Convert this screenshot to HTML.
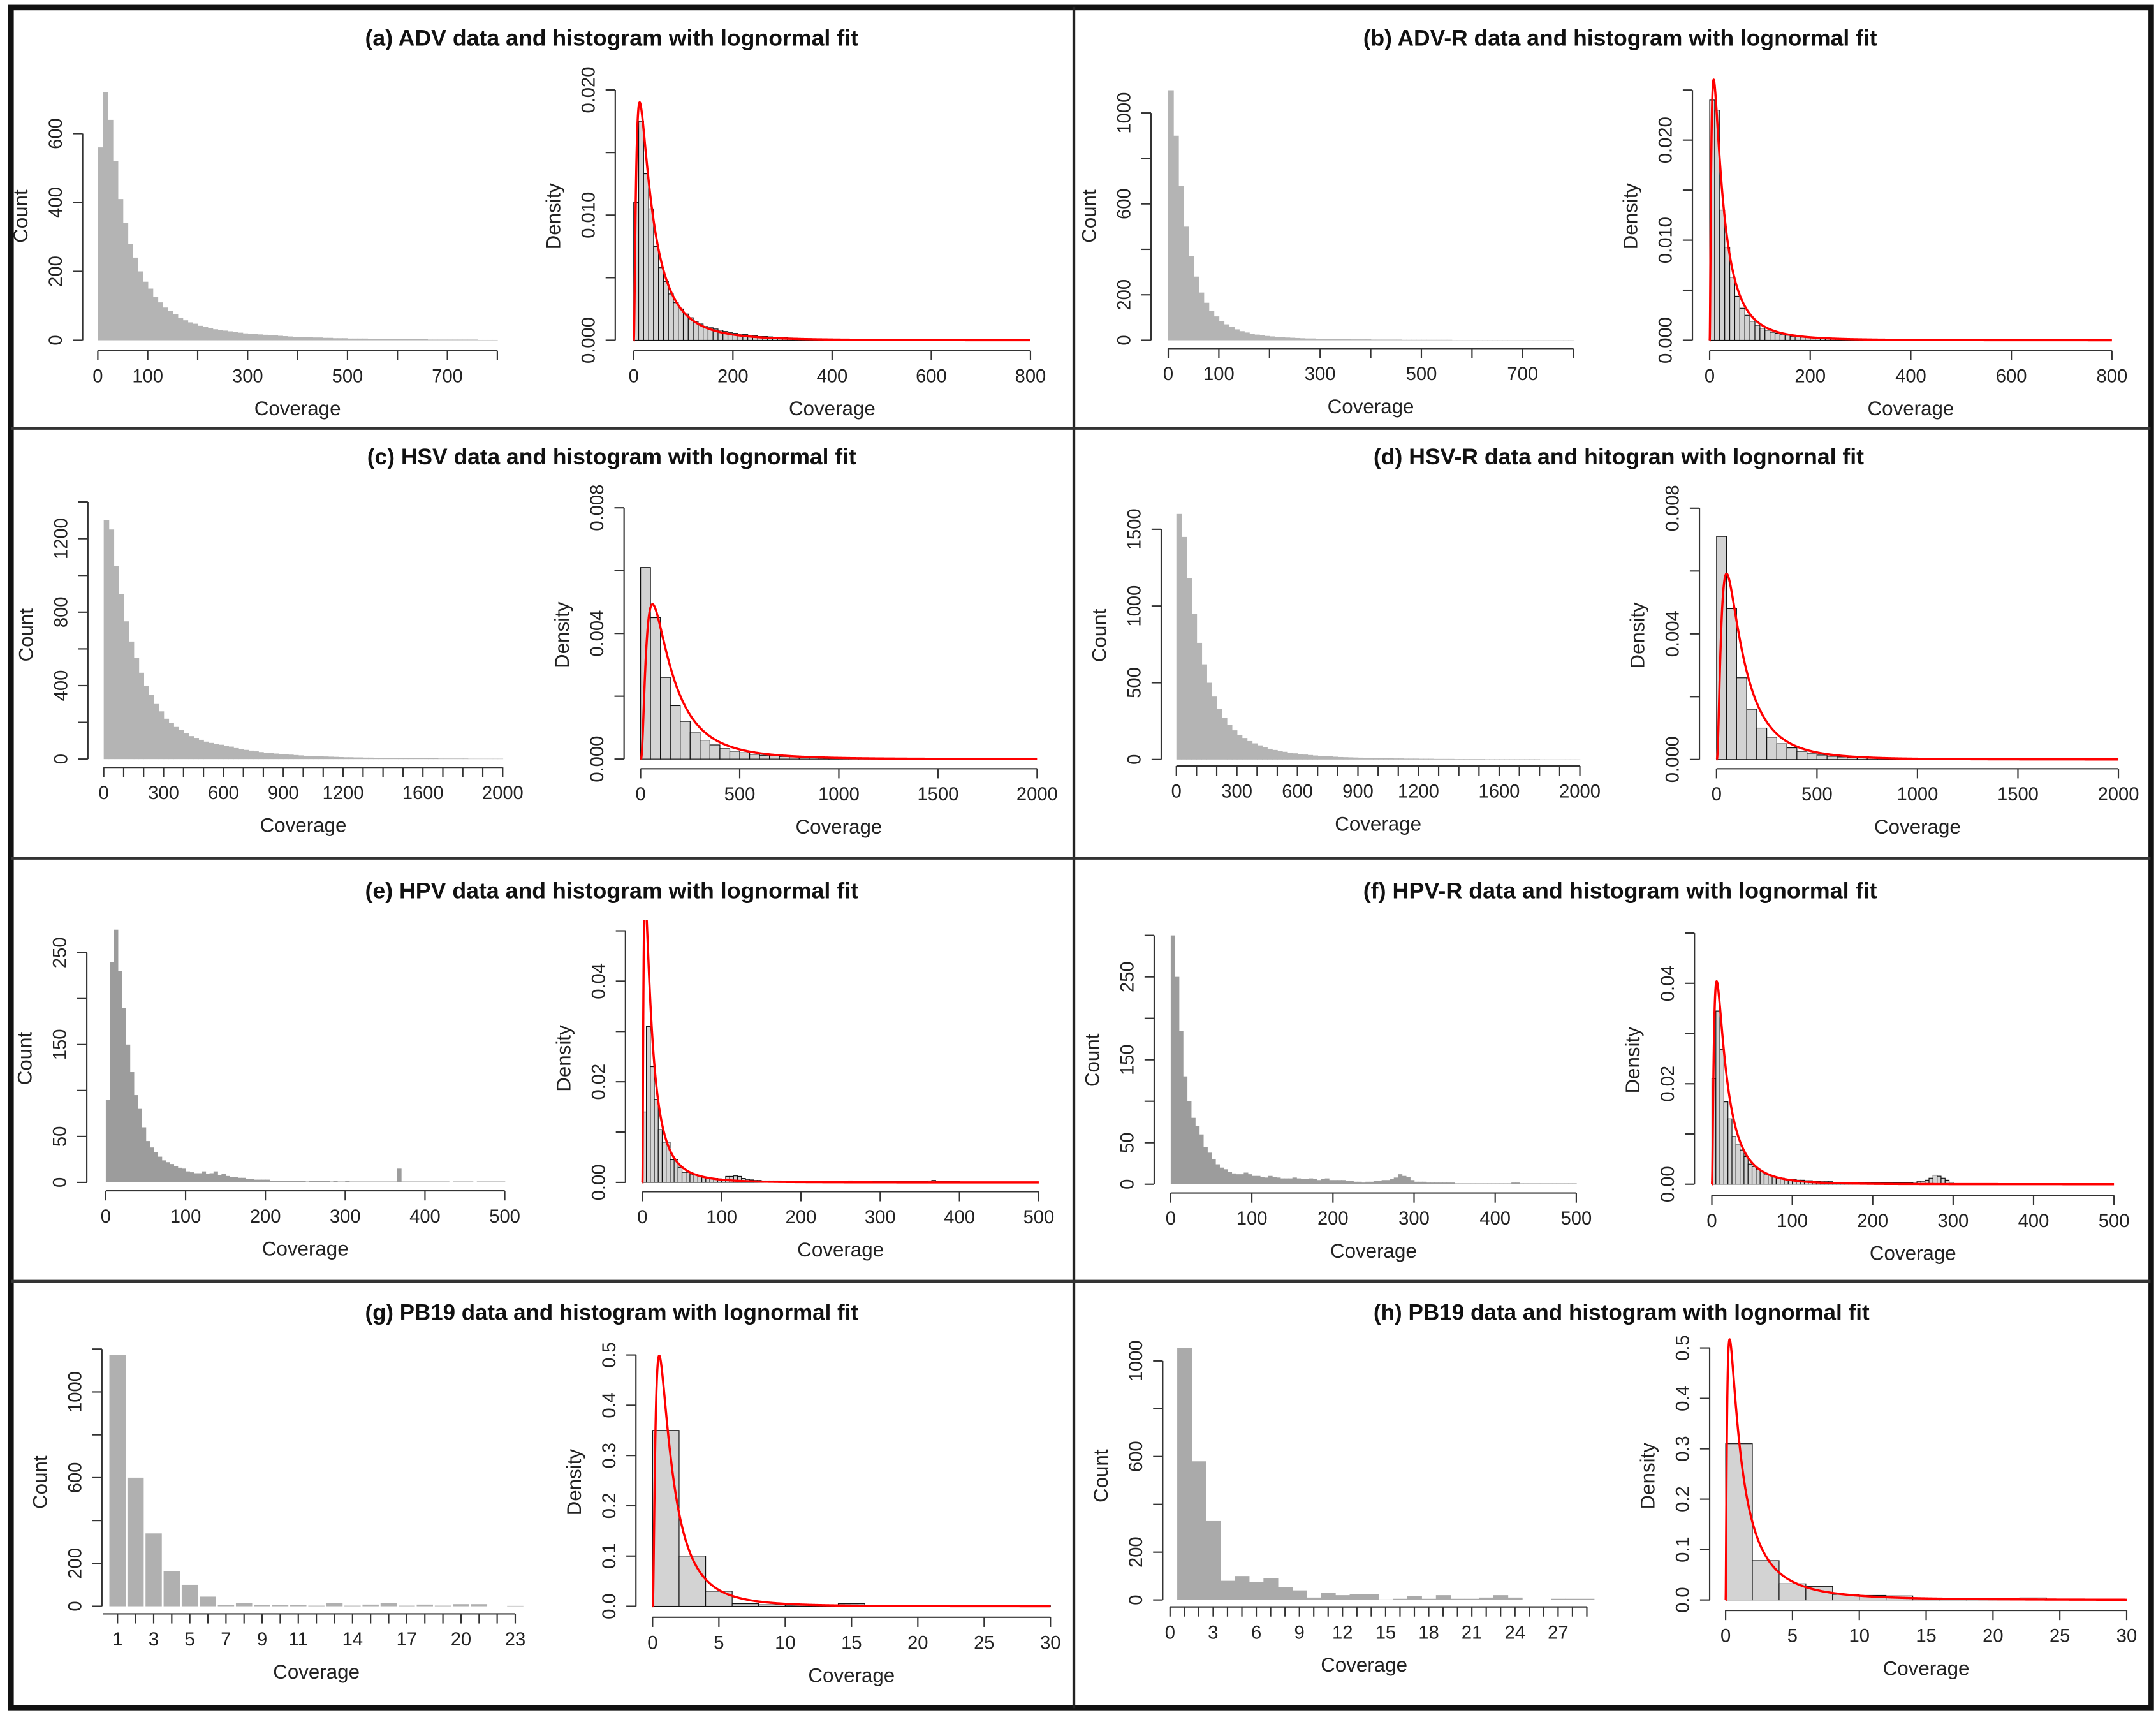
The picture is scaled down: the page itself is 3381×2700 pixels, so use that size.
<!DOCTYPE html>
<html><head><meta charset="utf-8"><title>Coverage histograms with lognormal fits</title>
<style>
html,body{margin:0;padding:0;background:#fff;}
svg{display:block;}
text{font-family:"Liberation Sans",Arial,sans-serif;fill:#222;}
.ttl{font-weight:bold;font-size:16.5px;fill:#111;}
.tk{font-size:13.5px;}
.at{font-size:14.5px;}
</style></head>
<body>
<svg id="chart" width="3381" height="2700" viewBox="0 0 1565 1250" preserveAspectRatio="none" xmlns="http://www.w3.org/2000/svg">
<rect x="0" y="0" width="1565" height="1250" fill="#fff"/>
<g>
<rect x="8" y="5.5" width="1553.5" height="1234" fill="none" stroke="#111" stroke-width="4"/>
<line x1="779.5" y1="5" x2="779.5" y2="1240" stroke="#222" stroke-width="2"/>
<line x1="8" y1="311" x2="1561" y2="311" stroke="#333" stroke-width="2"/>
<line x1="8" y1="623" x2="1561" y2="623" stroke="#333" stroke-width="2"/>
<line x1="8" y1="930" x2="1561" y2="930" stroke="#333" stroke-width="2"/>
</g>
<g>
<text class="ttl" x="444" y="33" text-anchor="middle" textLength="358" lengthAdjust="spacingAndGlyphs">(a) ADV data and histogram with lognormal fit</text>
<text class="ttl" x="1176" y="33" text-anchor="middle" textLength="373" lengthAdjust="spacingAndGlyphs">(b) ADV-R data and histogram with lognormal fit</text>
<text class="ttl" x="444" y="337" text-anchor="middle" textLength="355" lengthAdjust="spacingAndGlyphs">(c) HSV data and histogram with lognormal fit</text>
<text class="ttl" x="1175" y="337" text-anchor="middle" textLength="356" lengthAdjust="spacingAndGlyphs">(d) HSV-R data and hitogran with lognornal fit</text>
<text class="ttl" x="444" y="652" text-anchor="middle" textLength="358" lengthAdjust="spacingAndGlyphs">(e) HPV data and histogram with lognormal fit</text>
<text class="ttl" x="1176" y="652" text-anchor="middle" textLength="373" lengthAdjust="spacingAndGlyphs">(f) HPV-R data and histogram with lognormal fit</text>
<text class="ttl" x="444" y="958" text-anchor="middle" textLength="358" lengthAdjust="spacingAndGlyphs">(g) PB19 data and histogram with lognormal fit</text>
<text class="ttl" x="1177" y="958" text-anchor="middle" textLength="360" lengthAdjust="spacingAndGlyphs">(h) PB19 data and histogram with lognormal fit</text>
</g>
</svg>
<script>
// ---------- data ----------
const aCount = [560,720,640,520,410,340,280,240,200,170,150,125,110,95,85,75,65,58,52,48,42,38,35,32,30,28,26,24,22,20,19,18,17,16,15,14,13,12,11,10,10,9,9,8,8,7,7,6,6,6,5,5,5,5,4,4,4,4,4,3,3,3,3,3,3,3,2,2,2,2,2,2,2,2,2,2,1,1,1,1];
const aDens = [0.011,0.0175,0.0133,0.0105,0.0075,0.0058,0.0047,0.0037,0.003,0.0025,0.0021,0.0018,0.0015,0.0013,0.0011,0.001,0.0009,0.0008,0.0007,0.0006,0.00055,0.0005,0.00045,0.0004,0.00035,0.0003,0.0003,0.00027,0.00025,0.00022,0.0002,0.00018,0.00016,0.00015,0.00014,0.00013,0.00012,0.00011,0.0001,0.0001,0.00008,0.00007,0.00006,0.00006,0.00005,0.00005,0.00004,0.00004,0.00003,0.00003];
const aFit = [3.545, 1.03];
const bCount = [1100,900,680,500,370,280,210,165,130,105,85,70,58,48,40,34,29,25,22,19,17,15,13,12,11,10,9,8,8,7,7,6,6,5,5,5,4,4,4,4,3,3,3,3,3,3,2,2,2,2,2,2,2,2,2,2,1,1,1,1,1,1,1,1,1,1,1,1,1,1,1,1,1,1,1,1,1,1,1,1];
const bDens = [0.024,0.023,0.013,0.0093,0.0063,0.0044,0.0032,0.0025,0.0019,0.0015,0.0012,0.001,0.0008,0.0007,0.0006,0.0005,0.0004,0.00035,0.0003,0.00027,0.00024,0.0002,0.00018,0.00016,0.00014,0.00012,0.0001,0.0001,0.00009,0.00008,0.00007,0.00006,0.00005,0.00005,0.00004,0.00004,0.00003,0.00003,0.00003,0.00003];
const bFit = [3.235, 1.075];
const cCount = [1300,1250,1050,900,750,640,550,470,400,350,300,260,220,195,175,160,140,125,115,105,95,88,82,78,72,68,60,55,50,46,42,38,35,32,30,28,26,24,22,20,18,17,16,15,14,13,12,11,10,10,9,9,8,8,7,7,6,6,6,5,5,5,5,4,4,4,4,3,3,3,3,3,3,2,2,2,2,2,2,2];
const cDens = [0.0061,0.0045,0.0026,0.0017,0.0012,0.00086,0.0006,0.00045,0.00033,0.00025,0.0002,0.00015,0.00012,0.0001,0.00008,0.00007,0.00006,0.00005,0.00004,0.00003,0.00003,0.00002,0.00002,0.00002,0.00001,0.00001,0.00001,0.00001];
const cFit = [4.904, 0.9];
const dCount = [1600,1450,1180,950,760,620,500,410,330,270,225,190,160,140,120,105,92,80,70,62,55,50,45,40,36,32,29,26,24,22,20,18,16,15,14,13,12,11,10,9,9,8,8,7,7,6,6,6,5,5,5,4,4,4,4,3,3,3,3,3,3,2,2,2,2,2,2,2,2,2,2,2,1,1,1,1,1,1,1,1];
const dDens = [0.0071,0.0048,0.0026,0.0016,0.001,0.00071,0.0005,0.00037,0.00026,0.0002,0.00014,0.0001,0.00008,0.00006,0.00005,0.00004,0.00003,0.00003,0.00002,0.00002,0.00001,0.00001,0.00001];
const dFit = [4.722, 0.9];
const eCount = [90,240,275,230,190,150,120,95,80,60,45,38,33,28,24,22,20,18,16,15,12,11,10,10,12,9,10,12,8,9,7,6,6,5,5,4,4,3,3,3,3,2,2,2,2,2,2,2,2,2,1,2,2,2,2,2,1,2,1,1,2,1,1,1,1,1,1,1,1,1,1,1,1,15,1,1,1,1,1,1,1,1,1,1,1,1,0,1,1,1,1,1,0,1,1,1,1,1,1,1];
const eDens = [0.014,0.031,0.023,0.0165,0.0105,0.008,0.008,0.0045,0.0045,0.003,0.002,0.002,0.0015,0.0015,0.0012,0.001,0.001,0.0008,0.0008,0.0007,0.0006,0.0012,0.0012,0.0013,0.0012,0.0008,0.0006,0.0005,0.0004,0.0004,0.0003,0.0003,0.0003,0.0003,0.0003,0.0002,0.0002,0.0002,0.0002,0.0002,0.0002,0.0002,0.0002,0.0002,0.0002,0.0002,0.0002,0.0002,0.0002,0.0002,0.0002,0.0002,0.0003,0.0002,0.0002,0.0002,0.0002,0.0002,0.0002,0.0002,0.0002,0.0002,0.0002,0.0002,0.0002,0.0002,0.0002,0.0002,0.0002,0.0002,0.0002,0.0002,0.0003,0.0004,0.0002,0.0002,0.0002,0.0002,0.0002,0.0002];
const eFit = [2.463, 1.1];
const fCount = [300,250,185,130,100,80,70,60,45,38,30,24,20,18,15,13,12,12,14,12,10,10,9,8,10,9,8,7,7,7,8,7,6,6,7,6,5,6,7,5,5,5,5,4,4,3,3,2,3,3,4,4,5,5,6,8,12,10,9,5,3,3,3,2,2,2,2,2,2,2,1,1,1,1,1,1,1,1,1,1,1,1,1,1,2,2,1,1,1,1,1,1,1,1,1,1,1,1,1,1];
const fDens = [0.021,0.0345,0.0268,0.0164,0.013,0.0095,0.008,0.0068,0.0055,0.004,0.0035,0.003,0.0025,0.002,0.0018,0.0015,0.0013,0.0012,0.001,0.001,0.0009,0.0008,0.0008,0.0007,0.0007,0.0006,0.0006,0.0005,0.0005,0.0005,0.0004,0.0004,0.0004,0.0003,0.0003,0.0003,0.0003,0.0003,0.0003,0.0003,0.0003,0.0003,0.0003,0.0003,0.0003,0.0003,0.0003,0.0003,0.0003,0.0003,0.0004,0.0005,0.0006,0.0008,0.0012,0.0018,0.0016,0.0012,0.0008,0.0004];
const fFit = [2.79, 1.0];
const gCategories = [1,2,3,4,5,6,7,8,9,10,11,12,13,14,15,16,17,18,19,20,21,22,23];
const gCount = [1172,600,340,165,100,45,5,15,5,5,5,3,15,3,8,15,3,8,3,10,10,0,2];
const gDens = [0.35,0.1,0.03,0.005,0.003,0.002,0.002,0.005,0.001,0.002,0.001,0.002,0.001,0.001,0.001];
const gFit = [0.277, 0.985];
const hCategories = [1,2,3,4,5,6,7,8,9,10,11,12,13,14,15,16,17,18,19,20,21,22,23,24,25,26,27,28,29];
const hCount = [1055,580,330,80,100,75,90,55,40,10,30,20,25,25,2,5,15,5,20,5,5,10,20,10,0,0,5,5,5];
const hDens = [0.31,0.078,0.032,0.027,0.011,0.009,0.008,0.002,0.003,0.003,0.001,0.004,0,0,0];
const hFit = [0.286, 1.22];

// tick arrays
const x800by100 = [0,100,200,300,400,500,600,700,800];
const x800lab = ['0','100','','300','','500','','700',''];
const x800by200 = [0,200,400,600,800];
const x800by200lab = ['0','200','400','600','800'];
const x2000by100 = [0,100,200,300,400,500,600,700,800,900,1000,1100,1200,1300,1400,1500,1600,1700,1800,1900,2000];
const x2000lab = ['0','','','300','','','600','','','900','','','1200','','','','1600','','','','2000'];
const x2000by500 = [0,500,1000,1500,2000];
const x2000by500lab = ['0','500','1000','1500','2000'];
const x500by100 = [0,100,200,300,400,500];
const x500lab = ['0','100','200','300','400','500'];
const x30by5 = [0,5,10,15,20,25,30];
const x30lab = ['0','5','10','15','20','25','30'];
const gXTicks = [1,2,3,4,5,6,7,8,9,10,11,12,13,14,15,16,17,18,19,20,21,22,23];
const gXLab = ['1','','3','','5','','7','','9','','11','','','14','','','17','','','20','','','23'];
const hXTicks = [0,1,2,3,4,5,6,7,8,9,10,11,12,13,14,15,16,17,18,19,20,21,22,23,24,25,26,27,28,29];
const hXLab = ['0','','','3','','','6','','','9','','','12','','','15','','','18','','','21','','','24','','','27','',''];
const aYTicks = [0,200,400,600], aYLab = ['0','200','400','600'];
const bYTicks = [0,200,400,600,800,1000], bYLab = ['0','200','','600','','1000'];
const densA = [0,0.005,0.01,0.015,0.02], densALab = ['0.000','','0.010','','0.020'];
const densB = [0,0.005,0.01,0.015,0.02,0.025], densBLab = ['0.000','','0.010','','0.020',''];
const cYTicks = [0,200,400,600,800,1000,1200,1400], cYLab = ['0','','400','','800','','1200',''];
const dYTicks = [0,500,1000,1500], dYLab = ['0','500','1000','1500'];
const densC = [0,0.002,0.004,0.006,0.008], densCLab = ['0.000','','0.004','','0.008'];
const eYTicks = [0,50,100,150,200,250], eYLab = ['0','50','','150','','250'];
const fYTicks = [0,50,100,150,200,250,300], fYLab = ['0','50','','150','','250',''];
const densE = [0,0.01,0.02,0.03,0.04,0.05], densELab = ['0.00','','0.02','','0.04',''];
const gYTicks = [0,200,400,600,800,1000,1200], gYLab = ['0','200','','600','','1000',''];
const hYTicks = [0,200,400,600,800,1000], hYLab = ['0','200','','600','','1000'];
const densG = [0,0.1,0.2,0.3,0.4,0.5], densGLab = ['0.0','0.1','0.2','0.3','0.4','0.5'];

// ---------- drawing ----------
const NS = 'http://www.w3.org/2000/svg';
const svg = document.getElementById('chart');
function mk(tag, attrs, parent, name, inter) {
  const e = document.createElementNS(NS, tag);
  for (const k in attrs) e.setAttribute(k, attrs[k]);
  
  
  parent.appendChild(e);
  return e;
}
let clipId = 0;
function plot(c) {
  const g = mk('g', {}, svg, c.id, false);
  const sx = v => c.xp[0] + (v - c.xd[0]) * (c.xp[1] - c.xp[0]) / (c.xd[1] - c.xd[0]);
  const sy = v => c.y0 - v * c.k;
  const marks = mk('g', {}, g, c.id + '-bars', false);
  if (c.type === 'count') {
    c.bins.forEach((v, i) => {
      if (v <= 0) return;
      const xa = sx(i * c.w), xb = sx((i + 1) * c.w);
      mk('rect', {x: xa, y: sy(v), width: xb - xa + 0.35, height: v * c.k, fill: c.fill}, marks, 'count-bar', false);
    });
  } else if (c.type === 'cat') {
    const step = (c.xp[1] - c.xp[0]) / (c.xd[1] - c.xd[0]);
    c.cats.forEach((cat, i) => {
      const v = c.bins[i];
      if (v <= 0) return;
      const bw = step * c.bw;
      mk('rect', {x: sx(cat) - bw / 2, y: sy(v), width: bw + (c.bw >= 1 ? 0.3 : 0), height: v * c.k, fill: c.fill}, marks, 'count-bar', false);
    });
  } else {
    c.bins.forEach((v, i) => {
      const xa = sx(i * c.w), xb = sx((i + 1) * c.w);
      mk('rect', {x: xa, y: sy(v), width: xb - xa, height: Math.max(v * c.k, 0.01), fill: '#d3d3d3', stroke: '#111', 'stroke-width': 0.55}, marks, 'density-bar', false);
    });
    // lognormal fit curve
    const mu = c.fit[0], s = c.fit[1];
    const id = 'clip' + (clipId++);
    const cp = mk('clipPath', {id: id}, g, 'plot-clip', false);
    mk('rect', {x: c.xp[0] - 5, y: sy(c.clipTop), width: c.xp[1] - c.xp[0] + 10, height: c.y0 - sy(c.clipTop) + 2}, cp, 'plot-clip-rect', false);
    let d = 'M' + sx(c.xd[0]).toFixed(2) + ',' + c.y0.toFixed(2);
    const N = 1200;
    for (let j = 1; j <= N; j++) {
      const t = j / N;
      const x = c.xd[0] + (c.xd[1] - c.xd[0]) * t * t;
      const z = (Math.log(x) - mu) / s;
      const f = Math.exp(-0.5 * z * z) / (x * s * Math.sqrt(2 * Math.PI));
      d += 'L' + sx(x).toFixed(2) + ',' + sy(f).toFixed(2);
    }
    mk('path', {d: d, fill: 'none', stroke: '#ff0000', 'stroke-width': 1.6, 'clip-path': 'url(#' + id + ')'}, g, 'lognormal-fit-line', false);
  }
  // x axis
  const xa = mk('g', {}, g, c.id + '-x-axis', false);
  const xt = c.xTicks;
  const xStart = c.xAxisStart !== undefined ? c.xAxisStart : xt[0];
  mk('line', {x1: sx(xStart), x2: sx(xt[xt.length - 1]), y1: c.xax, y2: c.xax, stroke: '#333', 'stroke-width': 1}, xa, 'x-axis-line', false);
  xt.forEach((v, i) => {
    mk('line', {x1: sx(v), x2: sx(v), y1: c.xax, y2: c.xax + 7, stroke: '#333', 'stroke-width': 1}, xa, 'x-tick', false);
    if (c.xLab[i] !== '') {
      const t = mk('text', {x: sx(v), y: c.xax + 23, 'text-anchor': 'middle', class: 'tk'}, xa, 'x-tick-label', false);
      t.textContent = c.xLab[i];
    }
  });
  const xt2 = mk('text', {x: (c.xp[0] + c.xp[1]) / 2, y: c.xax + 47, 'text-anchor': 'middle', class: 'at'}, xa, 'x-axis-title', false);
  xt2.textContent = 'Coverage';
  // y axis
  const ya = mk('g', {}, g, c.id + '-y-axis', false);
  const yt = c.yTicks;
  mk('line', {x1: c.yax, x2: c.yax, y1: sy(yt[0]), y2: sy(yt[yt.length - 1]), stroke: '#333', 'stroke-width': 1}, ya, 'y-axis-line', false);
  yt.forEach((v, i) => {
    mk('line', {x1: c.yax - 7, x2: c.yax, y1: sy(v), y2: sy(v), stroke: '#333', 'stroke-width': 1}, ya, 'y-tick', false);
    if (c.yLab[i] !== '') {
      const lx = c.yax - 15;
      const t = mk('text', {x: lx, y: sy(v), 'text-anchor': 'middle', class: 'tk', transform: 'rotate(-90 ' + lx + ' ' + sy(v) + ')'}, ya, 'y-tick-label', false);
      t.textContent = c.yLab[i];
    }
  });
  const tx = c.yax - 40, ty = c.y0 - 90;
  const yt2 = mk('text', {x: tx, y: ty, 'text-anchor': 'middle', class: 'at', transform: 'rotate(-90 ' + tx + ' ' + ty + ')'}, ya, 'y-axis-title', false);
  yt2.textContent = c.ytitle;
}

const plots = [
  {id:'plot-a-count', type:'count', bins:aCount, w:10, xd:[0,800], xp:[71,361], y0:247, k:0.25, yax:60, xax:254.5, xTicks:x800by100, xLab:x800lab, yTicks:aYTicks, yLab:aYLab, fill:'#b4b4b4', ytitle:'Count'},
  {id:'plot-a-density', type:'dens', bins:aDens, w:10, fit:aFit, clipTop:0.03, xd:[0,800], xp:[460,748], y0:247, k:9085, yax:446.6, xax:254.5, xTicks:x800by200, xLab:x800by200lab, yTicks:densA, yLab:densALab, ytitle:'Density'},
  {id:'plot-b-count', type:'count', bins:bCount, w:10, xd:[0,800], xp:[848,1142], y0:247, k:0.165, yax:835.5, xax:253, xTicks:x800by100, xLab:x800lab, yTicks:bYTicks, yLab:bYLab, fill:'#b4b4b4', ytitle:'Count'},
  {id:'plot-b-density', type:'dens', bins:bDens, w:10, fit:bFit, clipTop:0.03, xd:[0,800], xp:[1241,1533], y0:247, k:7265, yax:1228.5, xax:254.5, xTicks:x800by200, xLab:x800by200lab, yTicks:densB, yLab:densBLab, ytitle:'Density'},
  {id:'plot-c-count', type:'count', bins:cCount, w:25, xd:[0,2000], xp:[75.3,364.9], y0:551, k:0.1333, yax:63.8, xax:557, xTicks:x2000by100, xLab:x2000lab, yTicks:cYTicks, yLab:cYLab, fill:'#b4b4b4', ytitle:'Count'},
  {id:'plot-c-density', type:'dens', bins:cDens, w:50, fit:cFit, clipTop:0.01, xd:[0,2000], xp:[465,752.8], y0:551, k:22800, yax:453, xax:558, xTicks:x2000by500, xLab:x2000by500lab, yTicks:densC, yLab:densCLab, ytitle:'Density'},
  {id:'plot-d-count', type:'count', bins:dCount, w:25, xd:[0,2000], xp:[853.9,1146.8], y0:551.3, k:0.1114, yax:842.9, xax:556, xTicks:x2000by100, xLab:x2000lab, yTicks:dYTicks, yLab:dYLab, fill:'#b4b4b4', ytitle:'Count'},
  {id:'plot-d-density', type:'dens', bins:dDens, w:50, fit:dFit, clipTop:0.01, xd:[0,2000], xp:[1246,1537.7], y0:551.3, k:22800, yax:1233.6, xax:558, xTicks:x2000by500, xLab:x2000by500lab, yTicks:densC, yLab:densCLab, ytitle:'Density'},
  {id:'plot-e-count', type:'count', bins:eCount, w:5, xd:[0,500], xp:[76.8,366.4], y0:858.3, k:0.667, yax:63, xax:864.4, xTicks:x500by100, xLab:x500lab, yTicks:eYTicks, yLab:eYLab, fill:'#9c9c9c', ytitle:'Count'},
  {id:'plot-e-density', type:'dens', bins:eDens, w:5, fit:eFit, clipTop:0.0522, xd:[0,500], xp:[466.3,754], y0:858.3, k:3652, yax:454, xax:865, xTicks:x500by100, xLab:x500lab, yTicks:densE, yLab:densELab, ytitle:'Density'},
  {id:'plot-f-count', type:'count', bins:fCount, w:5, xd:[0,500], xp:[849.8,1144.2], y0:859.6, k:0.602, yax:837.8, xax:866, xTicks:x500by100, xLab:x500lab, yTicks:fYTicks, yLab:fYLab, fill:'#9c9c9c', ytitle:'Count'},
  {id:'plot-f-density', type:'dens', bins:fDens, w:5, fit:fFit, clipTop:0.06, xd:[0,500], xp:[1242.6,1534.5], y0:859.6, k:3645, yax:1230, xax:867.7, xTicks:x500by100, xLab:x500lab, yTicks:densE, yLab:densELab, ytitle:'Density'},
  {id:'plot-g-count', type:'cat', cats:gCategories, bins:gCount, bw:0.9, xd:[1,23], xp:[85.3,374], xAxisStart:0.2, y0:1166, k:0.1556, yax:74, xax:1171.5, xTicks:gXTicks, xLab:gXLab, yTicks:gYTicks, yLab:gYLab, fill:'#b0b0b0', ytitle:'Count'},
  {id:'plot-g-density', type:'dens', bins:gDens, w:2, fit:gFit, clipTop:0.6, xd:[0,30], xp:[473.7,762.5], y0:1166, k:364.8, yax:461.6, xax:1174, xTicks:x30by5, xLab:x30lab, yTicks:densG, yLab:densGLab, ytitle:'Density'},
  {id:'plot-h-count', type:'cat', cats:hCategories, bins:hCount, bw:1, xd:[0,27], xp:[849.3,1131], y0:1161.4, k:0.1735, yax:844, xax:1166.5, xTicks:hXTicks, xLab:hXLab, yTicks:hYTicks, yLab:hYLab, fill:'#aaaaaa', ytitle:'Count'},
  {id:'plot-h-density', type:'dens', bins:hDens, w:2, fit:hFit, clipTop:0.6, xd:[0,30], xp:[1252.6,1543.7], y0:1161.4, k:365.8, yax:1241, xax:1169, xTicks:x30by5, xLab:x30lab, yTicks:densG, yLab:densGLab, ytitle:'Density'}
];
plots.forEach(plot);
</script>
</body></html>
